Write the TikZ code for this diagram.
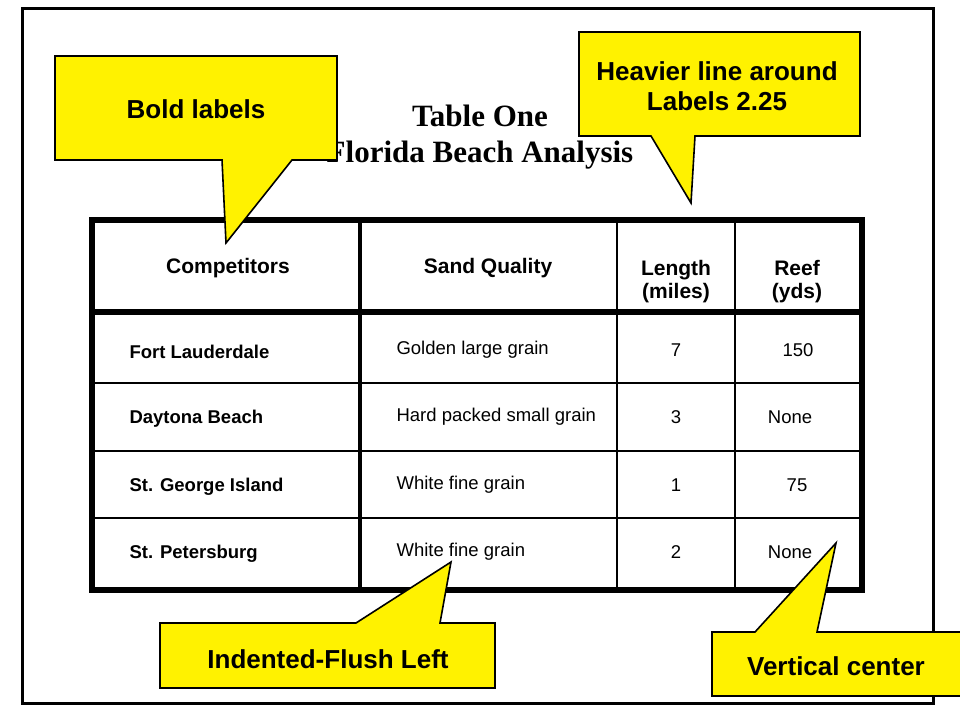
\documentclass[tikz,border=0pt]{standalone}
\usepackage{fontspec}
\setmainfont{Liberation Sans}
\newfontfamily\ttlfont{Liberation Serif}
\begin{document}
\begin{tikzpicture}[x=1pt,y=-1pt,
  callout/.style={fill=yellow,draw=black,line width=1.6pt,line join=miter},
  ctext/.style={font=\fontsize{26}{30}\selectfont\bfseries,align=center},
  hdr/.style={font=\fontsize{21}{23}\selectfont\bfseries,align=center},
  lbl/.style={font=\fontsize{18.5}{21}\selectfont\bfseries,anchor=west},
  cell/.style={font=\fontsize{18.5}{21}\selectfont,anchor=west},
  num/.style={font=\fontsize{18.5}{21}\selectfont}]
\useasboundingbox (0,0) rectangle (960,720);
\fill[white] (0,0) rectangle (960,720);
\draw[line width=3pt] (22,8) rectangle (933,703);
% title
\node[font=\ttlfont\fontsize{31}{34}\selectfont\bfseries] (t1) at (480,116) {Table One};
\node[font=\ttlfont\fontsize{31}{34}\selectfont\bfseries] (t2) at (480,155) {Florida Beach Analysis};
% table grid
\foreach \y in {383,451,518} \draw[line width=1.2pt] (92,\y) -- (862,\y);
\draw[line width=1.2pt] (617,220) -- (617,590);
\draw[line width=1.2pt] (735,220) -- (735,590);
\draw[line width=4pt] (360,220) -- (360,590);
\draw[line width=6pt] (92,312) -- (862,312);
\draw[line width=6pt] (92,220) rectangle (862,590);
% header
\node[hdr] (h1) at (228,268) {Competitors};
\node[hdr] (h2) at (488,268) {Sand Quality};
\node[hdr] (h3) at (676,282) {Length\\(miles)};
\node[hdr] (h4) at (797,282) {Reef\\(yds)};
% rows
\node[lbl] (r1) at (126,352) {Fort Lauderdale};
\node[lbl] (r2) at (126,419) {Daytona Beach};
\node[lbl] (r3) at (126,487) {St. George Island};
\node[lbl] (r4) at (126,554) {St. Petersburg};
\node[cell] (s1) at (393,350) {Golden large grain};
\node[cell] (s2) at (393,417) {Hard packed small grain};
\node[cell] (s3) at (393,485) {White fine grain};
\node[cell] (s4) at (393,552) {White fine grain};
\node[num] (l1) at (676,350) {7};
\node[num] (l2) at (676,417) {3};
\node[num] (l3) at (676,485) {1};
\node[num] (l4) at (676,552) {2};
\node[num] (f1) at (798,350) {150};
\node[num] (f2) at (790,417) {None};
\node[num] (f3) at (797,485) {75};
\node[num] (f4) at (790,552) {None};
% callouts
\draw[callout] (55,56) -- (337,56) -- (337,160) -- (292,160) -- (226,243) -- (222,160) -- (55,160) -- cycle;
\node[ctext] (c1) at (196,109) {Bold labels};
\draw[callout] (579,32) -- (860,32) -- (860,136) -- (695,136) -- (691,203) -- (651,136) -- (579,136) -- cycle;
\node[ctext] (c2) at (717,86) {Heavier line around\\Labels 2.25};
\draw[callout] (160,623) -- (356,623) -- (451,562) -- (440,623) -- (495,623) -- (495,688) -- (160,688) -- cycle;
\node[ctext] (c3) at (328,659) {Indented-Flush Left};
\draw[callout] (712,632) -- (755,632) -- (836,543) -- (817,632) -- (965,632) -- (965,696) -- (712,696) -- cycle;
\node[ctext] (c4) at (836,666) {Vertical center};
\end{tikzpicture}
\end{document}
